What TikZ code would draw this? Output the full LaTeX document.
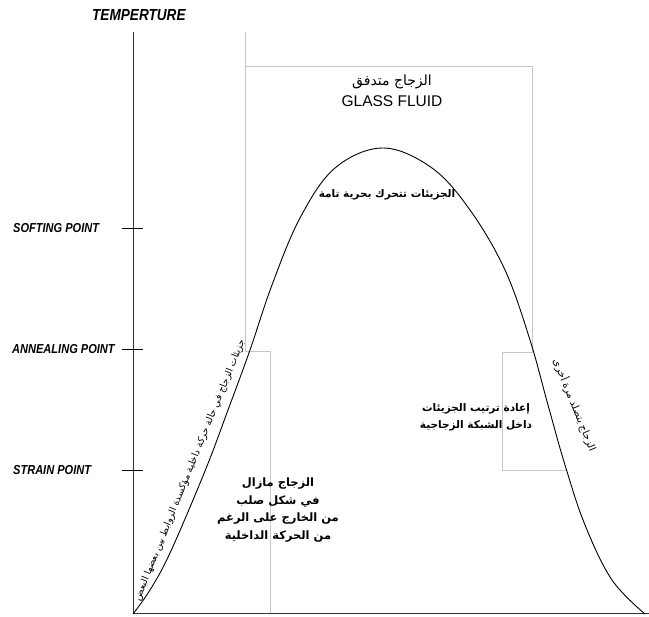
\documentclass[tikz,border=0pt]{standalone}
\usepackage{fontspec}
\setmainfont{Liberation Sans}
\newfontfamily\arabicfont[Script=Arabic]{DejaVu Sans}
\TeXXeTstate=1
\usetikzlibrary{positioning}

\begin{document}
\begin{tikzpicture}[x=1pt,y=-1pt,
    axislabel/.style={anchor=west,inner sep=0pt,xscale=.85,transform shape,
        font=\fontsize{13}{15}\selectfont\bfseries\itshape},
    artext/.style={inner sep=0pt,align=center},
    frame/.style={draw=black!22,line width=.8pt}]
\useasboundingbox (0,0) rectangle (649,617);

% frames behind the curve
\draw[frame] (245,32) -- (245,351) -- (270,351) -- (270,614);
\draw[frame] (245,66) -- (532,66) -- (532,352) -- (502,352) -- (502,470) -- (567,470);

% axes and ticks
\coordinate (origin) at (133,614);
\draw[line width=1pt,black!80] (133,32) -- (origin) -- (649,614);
\foreach \y in {228,349,470}
    \draw[line width=.8pt] (122,\y) -- (143,\y);

% curve
\draw[line width=.9pt] plot[smooth,tension=.6] coordinates {
    (origin) (150,590) (170,553) (205,471) (228,410) (250,350) (272,285) (300,218)
    (335,168) (383,148) (432,168) (470,210) (505,270) (530,340) (548,405) (565,465)
    (585,525) (612,580) (645,614)};

\node[axislabel,font=\fontsize{16}{18}\selectfont\bfseries\itshape] (temp) at (92,15) {TEMPERTURE};
\node[axislabel] (soft) at (13,228) {SOFTING POINT};
\node[axislabel] (anneal) at (12,349) {ANNEALING POINT};
\node[axislabel] (strain) at (13,470) {STRAIN POINT};

\node[artext,font=\arabicfont\fontsize{14}{16}\selectfont] (fluidar) at (392,82) {\beginR الزجاج متدفق\endR};
\node[artext,font=\fontsize{15.5}{17}\selectfont] (fluid) at (392,101) {GLASS FLUID};
\node[artext,font=\arabicfont\bfseries\fontsize{10.5}{13}\selectfont] (free) at (387,195)
    {\beginR الجزيئات تتحرك بحرية تامة\endR};

\node[artext,rotate=68,font=\arabicfont\fontsize{9.5}{10}\selectfont] (moving) at (190,470)
    {\beginR جزيئات الزجاج في حالة حركة داخلية مؤكسدة الروابط بين بعضها البعض\endR};
\node[artext,rotate=-68,font=\arabicfont\fontsize{10}{11}\selectfont] (harden) at (575,405)
    {\beginR الزجاج يتصلد مرة أخرى\endR};

\node[artext,font=\arabicfont\bfseries\fontsize{11.5}{17.7}\selectfont] (solid) at (278,510)
    {\beginR الزجاج مازال\endR\\\beginR في شكل صلب\endR\\
     \beginR من الخارج على الرغم\endR\\\beginR من الحركة الداخلية\endR};
\node[artext,font=\arabicfont\bfseries\fontsize{10.5}{17}\selectfont] (rearrange) at (476,417)
    {\beginR إعادة ترتيب الجزيئات\endR\\\beginR داخل الشبكة الزجاجية\endR};
\end{tikzpicture}
\end{document}
